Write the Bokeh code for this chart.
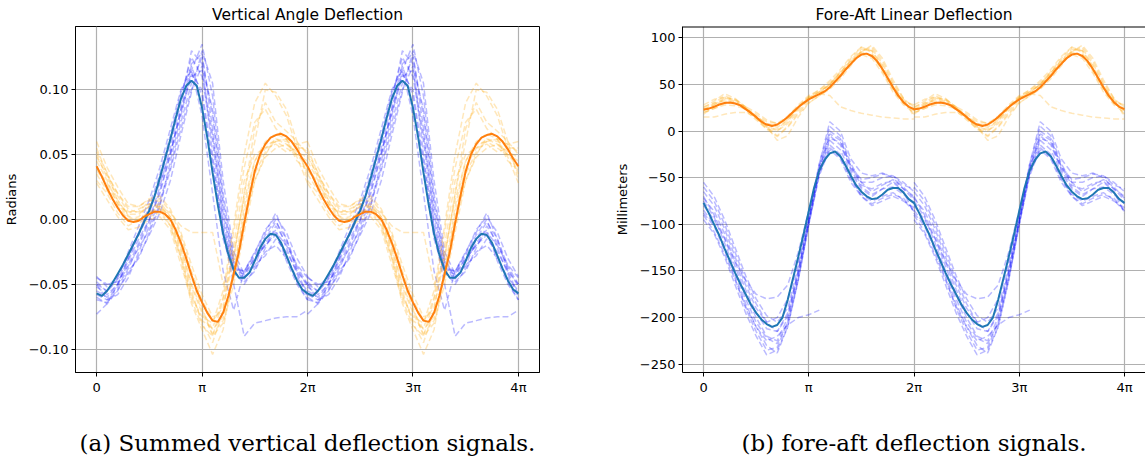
import numpy as np
from bokeh.plotting import figure
from bokeh.layouts import row
from bokeh.models import FixedTicker, Range1d, Span
from bokeh.embed import file_html
from bokeh.resources import INLINE

nan = float("nan")

# ---------------- shared ----------------
xtick_labels = ["0", "π", "2π", "3π", "4π"]
mean_step = 0.05     # phase step of the mean curves, in units of pi (one period 0..2pi)
trial_step = 0.10    # phase step of the individual trials, in units of pi

# ---------------- panel (a) ----------------
a_title = "Vertical Angle Deflection"
a_ylabel = "Radians"
a_caption = "(a) Summed vertical deflection signals."
a_yticks = [-0.10, -0.05, 0.00, 0.05, 0.10]
a_ytick_labels = ["−0.10", "−0.05", "0.00", "0.05", "0.10"]

a_blue_mean = [-0.057, -0.059, -0.055, -0.049, -0.042, -0.035, -0.027, -0.019, -0.011, -0.002,
               0.007, 0.018, 0.032, 0.047, 0.062, 0.078, 0.093, 0.103, 0.107, 0.103,
               0.086, 0.063, 0.036, 0.011, -0.011, -0.027, -0.039, -0.045, -0.045, -0.041,
               -0.032, -0.022, -0.015, -0.011, -0.012, -0.018, -0.028, -0.038, -0.047, -0.054,
               -0.057]
a_orange_mean = [0.041, 0.033, 0.024, 0.016, 0.009, 0.003, -0.001, -0.002, -0.001, 0.002,
                 0.004, 0.006, 0.006, 0.004, 0.000, -0.008, -0.018, -0.030, -0.043, -0.055,
                 -0.064, -0.072, -0.078, -0.079, -0.072, -0.059, -0.042, -0.025, -0.003, 0.018,
                 0.037, 0.050, 0.058, 0.063, 0.065, 0.066, 0.064, 0.060, 0.054, 0.047,
                 0.041]

a_blue_trials = [
    [-0.045, -0.050, -0.048, -0.035, -0.018, 0.000, 0.020, 0.050, 0.085, 0.120, 0.128, 0.070, 0.000, -0.040, -0.042, -0.030, -0.020, -0.010, -0.020, -0.035, -0.045],
    [-0.050, -0.062, -0.058, -0.045, -0.025, -0.005, 0.015, 0.040, 0.075, 0.105, 0.125, 0.080, 0.010, -0.035, -0.048, -0.040, -0.022, -0.005, -0.018, -0.038, -0.052],
    [-0.060, -0.065, -0.055, -0.040, -0.030, -0.010, 0.010, 0.045, 0.080, 0.115, 0.135, 0.095, 0.020, -0.030, -0.045, -0.035, -0.028, -0.015, -0.025, -0.040, -0.058],
    [-0.055, -0.060, -0.050, -0.030, -0.012, 0.005, 0.030, 0.060, 0.095, 0.125, 0.110, 0.060, -0.005, -0.040, -0.050, -0.038, -0.025, -0.020, -0.030, -0.045, -0.055],
    [-0.073, -0.065, -0.050, -0.032, -0.015, 0.000, 0.025, 0.055, 0.090, 0.130, 0.120, 0.050, -0.010, -0.050, -0.090, -0.080, -0.078, -0.076, -0.075, -0.075, -0.070],
    [-0.050, -0.055, -0.045, -0.025, -0.005, 0.015, 0.040, 0.070, 0.100, 0.115, 0.080, 0.020, -0.040, -0.070, -0.040, -0.025, -0.010, 0.005, -0.015, -0.040, -0.050],
    [-0.058, -0.062, -0.052, -0.038, -0.020, -0.002, 0.022, 0.050, 0.085, 0.112, 0.100, 0.045, -0.008, -0.038, -0.040, -0.028, -0.012, 0.000, -0.022, -0.042, -0.060],
    [-0.048, -0.056, -0.046, -0.030, -0.010, 0.010, 0.035, 0.065, 0.098, 0.118, 0.095, 0.040, -0.015, -0.042, -0.044, -0.032, -0.018, -0.008, -0.032, -0.050, -0.062],
    [-0.052, -0.058, -0.050, -0.036, -0.022, -0.008, 0.012, 0.038, 0.070, 0.100, 0.118, 0.085, 0.015, -0.032, -0.046, -0.036, -0.015, -0.002, -0.015, -0.036, -0.050],
    [-0.062, -0.064, -0.054, -0.042, -0.028, -0.012, 0.005, 0.030, 0.065, 0.098, 0.130, 0.105, 0.030, -0.025, -0.042, -0.030, -0.020, -0.012, -0.028, -0.048, -0.062],
    [-0.044, -0.052, -0.044, -0.028, -0.010, 0.008, 0.028, 0.052, 0.082, 0.110, 0.115, 0.065, 0.005, -0.036, -0.040, -0.026, -0.008, 0.002, -0.010, -0.030, -0.044],
]
a_orange_trials = [
    [0.045, 0.030, 0.012, 0.005, 0.008, 0.012, 0.010, 0.002, -0.020, -0.050, -0.070, -0.085, -0.075, -0.040, 0.010, 0.045, 0.058, 0.060, 0.055, 0.050, 0.045],
    [0.055, 0.035, 0.020, 0.008, 0.005, 0.010, 0.012, 0.000, -0.025, -0.055, -0.080, -0.095, -0.070, -0.020, 0.030, 0.050, 0.055, 0.058, 0.052, 0.055, 0.055],
    [0.035, 0.022, 0.010, 0.000, 0.002, 0.012, 0.008, -0.005, -0.030, -0.060, -0.075, -0.080, -0.055, -0.005, 0.050, 0.090, 0.105, 0.095, 0.080, 0.055, 0.035],
    [0.060, 0.040, 0.025, 0.012, 0.010, 0.015, 0.014, 0.002, -0.015, -0.045, -0.068, -0.090, -0.080, -0.050, -0.010, 0.030, 0.050, 0.062, 0.060, 0.058, 0.060],
    [0.030, 0.020, 0.005, -0.005, 0.000, 0.005, 0.010, 0.005, -0.005, -0.010, -0.010, -0.010, -0.050, -0.030, 0.020, 0.060, 0.100, 0.098, 0.085, 0.060, 0.030],
    [0.040, 0.028, 0.015, 0.003, -0.003, 0.002, 0.005, -0.005, -0.030, -0.065, -0.085, -0.104, -0.085, -0.040, 0.000, 0.030, 0.048, 0.055, 0.058, 0.050, 0.040],
    [0.050, 0.032, 0.018, 0.006, 0.006, 0.014, 0.016, 0.006, -0.012, -0.040, -0.062, -0.078, -0.068, -0.030, 0.020, 0.070, 0.090, 0.075, 0.068, 0.060, 0.050],
    [0.028, 0.015, 0.002, -0.008, -0.006, 0.000, 0.002, -0.008, -0.035, -0.062, -0.082, -0.090, -0.062, -0.025, 0.015, 0.045, 0.060, 0.066, 0.062, 0.048, 0.028],
    [0.048, 0.034, 0.020, 0.010, 0.010, 0.016, 0.018, 0.008, -0.010, -0.035, -0.058, -0.075, -0.072, -0.045, 0.005, 0.040, 0.055, 0.062, 0.058, 0.052, 0.048],
    [0.038, 0.026, 0.012, 0.002, 0.000, 0.006, 0.008, 0.000, -0.022, -0.052, -0.072, -0.088, -0.078, -0.045, -0.005, 0.035, 0.052, 0.060, 0.062, 0.045, 0.038],
    [0.052, 0.036, 0.014, 0.004, 0.004, 0.010, 0.010, -0.002, -0.028, -0.058, -0.078, -0.084, -0.060, -0.010, 0.040, 0.075, 0.085, 0.070, 0.062, 0.058, 0.052],
]

# ---------------- panel (b) ----------------
b_title = "Fore-Aft Linear Deflection"
b_ylabel = "Millimeters"
b_caption = "(b) fore-aft deflection signals."
b_yticks = [-250, -200, -150, -100, -50, 0, 50, 100]
b_ytick_labels = ["−250", "−200", "−150", "−100", "−50", "0", "50", "100"]

b_blue_mean = [-77, -88, -100, -112, -126, -139, -152, -164, -175, -186,
               -195, -202, -207, -210, -208, -200, -181, -158, -135, -111,
               -86, -61, -42, -31, -24, -22, -27, -37, -48, -58,
               -65, -70, -73, -72, -68, -63, -61, -61, -66, -73,
               -77]
b_orange_mean = [23, 24, 26, 28.5, 30, 30.5, 29.5, 27.5, 23.5, 19.5,
                 15, 10, 7, 5.5, 7, 10.5, 15, 20.5, 25.5, 30,
                 34, 37, 39.5, 42.5, 47, 53, 59, 66, 72, 78,
                 82, 83, 80.5, 75, 66.5, 57, 47, 38, 31, 26,
                 23.5]

b_blue_trials = [
    [-60, -75, -100, -130, -160, -185, -205, -215, -195, -150, -95, -40, -5, -15, -40, -55, -55, -50, -48, -55, -65],
    [-70, -90, -115, -145, -175, -200, -220, -225, -200, -150, -95, -35, 5, -5, -35, -55, -65, -58, -52, -60, -72],
    [-85, -100, -125, -155, -185, -210, -230, -238, -210, -160, -100, -45, -15, -25, -50, -70, -78, -72, -68, -72, -85],
    [-80, -95, -115, -140, -160, -175, -180, -178, -165, -130, -85, -45, -20, -30, -55, -70, -80, -75, -70, -75, -82],
    [-95, -110, -135, -165, -195, -220, -240, -235, -210, -160, -100, -45, -10, -20, -45, -62, -70, -62, -55, -65, -88],
    [-65, -80, -105, -135, -165, -190, -205, -200, -180, -140, -90, -35, 10, 0, -30, -45, -48, -45, -50, -62, -70],
    [-90, -108, -132, -160, -188, -210, -225, -220, -208, -200, -197, -192, nan, nan, nan, nan, nan, nan, nan, nan, nan],
    [-75, -92, -120, -150, -180, -205, -222, -228, -205, -155, -98, -42, -8, -12, -42, -60, -68, -62, -60, -68, -78],
    [-55, -70, -95, -125, -155, -180, -198, -205, -190, -145, -92, -38, 0, -8, -38, -52, -50, -46, -48, -58, -62],
    [-88, -102, -128, -158, -190, -215, -235, -232, -205, -158, -100, -48, -18, -28, -52, -68, -75, -70, -66, -74, -86],
    [-72, -86, -110, -140, -170, -195, -212, -215, -198, -152, -96, -40, -3, -10, -38, -58, -62, -56, -54, -62, -74],
]
b_orange_trials = [
    [22, 30, 38, 33, 22, 12, 2, 0, 10, 25, 36, 42, 50, 62, 76, 88, 86, 70, 48, 30, 22],
    [25, 32, 40, 35, 25, 14, 4, -5, 5, 20, 32, 40, 48, 60, 74, 86, 90, 75, 52, 35, 25],
    [20, 24, 28, 27, 24, 18, 10, 8, 16, 28, 38, 44, 52, 63, 74, 82, 78, 62, 42, 28, 20],
    [15, 15, 18, 20, 20, 15, 5, -10, -5, 15, 30, 38, 45, 56, 70, 85, 92, 78, 55, 35, 15],
    [20, 24, 30, 30, 24, 16, 8, 6, 14, 26, 35, 40, 38, 26, 22, 19, 17, 15, 14, 13, 13],
    [28, 34, 36, 32, 24, 16, 8, 4, 12, 24, 35, 42, 50, 60, 72, 84, 82, 66, 46, 32, 28],
    [24, 28, 34, 31, 24, 14, 4, 2, 12, 26, 37, 44, 54, 66, 80, 90, 84, 64, 44, 30, 24],
    [18, 26, 35, 34, 26, 14, 2, -6, 4, 18, 30, 38, 46, 58, 72, 86, 88, 72, 50, 32, 18],
    [26, 30, 32, 30, 26, 20, 12, 8, 14, 26, 36, 42, 50, 62, 76, 84, 80, 66, 48, 34, 26],
    [22, 28, 36, 34, 26, 14, 6, 0, 8, 22, 34, 40, 50, 64, 78, 90, 86, 68, 46, 30, 22],
]

TRIAL_BLUE = "blue"
TRIAL_ORANGE = "orange"
MEAN_BLUE = "#1f77b4"
MEAN_ORANGE = "#ff7f0e"


def two_periods(values, step):
    y = np.array(values, dtype=float)
    t = np.arange(len(y)) * step * np.pi
    return [(t, y), (t + 2 * np.pi, y)]


def make_panel(title, ylabel, caption, yticks, ylabels, yrange, xend, blue_mean, orange_mean,
               blue_trials, orange_trials, width, border_left, border_right, full_box):
    p = figure(width=width, height=467, output_backend="svg", toolbar_location=None,
               x_range=Range1d(-0.2 * np.pi, xend * np.pi), y_range=Range1d(*yrange),
               min_border_left=border_left, min_border_right=border_right,
               min_border_top=26, min_border_bottom=95, title=title)
    p.title.text_font = "DejaVu Sans"
    p.title.text_font_size = "15.5px"
    p.title.text_font_style = "normal"
    p.title.align = "center"
    p.title.standoff = 6
    p.title.text_color = "black"

    p.background_fill_color = "white"
    p.border_fill_color = "white"
    if full_box:
        p.outline_line_color = "black"
        p.outline_line_alpha = 1.0
        p.outline_line_width = 1
    else:
        p.outline_line_color = None
        p.add_layout(Span(location=yrange[1], dimension="width", line_color="black", line_width=2))

    p.xaxis.ticker = FixedTicker(ticks=[k * np.pi for k in range(len(xtick_labels))])
    p.xaxis.major_label_overrides = {k * np.pi: lab for k, lab in enumerate(xtick_labels)}
    p.yaxis.ticker = FixedTicker(ticks=yticks)
    p.yaxis.major_label_overrides = {v: lab for v, lab in zip(yticks, ylabels)}

    for ax in (p.xaxis, p.yaxis):
        ax.major_label_text_font = "DejaVu Sans"
        ax.major_label_text_font_size = "13px"
        ax.major_label_text_color = "black"
        ax.major_tick_out = 4
        ax.major_tick_in = 0
        ax.minor_tick_out = 0
        ax.minor_tick_in = 0
        ax.major_tick_line_color = "black"
        ax.axis_line_color = "black"
        ax.major_label_standoff = 3

    p.yaxis.axis_label = ylabel
    p.yaxis.axis_label_text_font = "DejaVu Sans"
    p.yaxis.axis_label_text_font_size = "13px"
    p.yaxis.axis_label_text_font_style = "normal"
    p.yaxis.axis_label_text_color = "black"
    p.yaxis.axis_label_standoff = 7

    p.xaxis.axis_label = caption
    p.xaxis.axis_label_text_font = "DejaVu Serif"
    p.xaxis.axis_label_text_font_size = "23px"
    p.xaxis.axis_label_text_font_style = "normal"
    p.xaxis.axis_label_text_color = "black"
    p.xaxis.axis_label_standoff = 32

    p.grid.grid_line_color = "#b0b0b0"
    p.grid.grid_line_width = 1.2

    for trials, col in ((blue_trials, TRIAL_BLUE), (orange_trials, TRIAL_ORANGE)):
        for tr in trials:
            for t, y in two_periods(tr, trial_step):
                p.line(t, y, line_color=col, line_alpha=0.27, line_width=1.5, line_dash="6 3")

    for m, col in ((blue_mean, MEAN_BLUE), (orange_mean, MEAN_ORANGE)):
        (t1, y1), (t2, y2) = two_periods(m, mean_step)
        t = np.concatenate([t1, t2[1:]])
        y = np.concatenate([y1, y2[1:]])
        p.line(t, y, line_color=col, line_width=2)
    return p


pa = make_panel(a_title, a_ylabel, a_caption, a_yticks, a_ytick_labels, (-0.118, 0.1487), 4.2,
                a_blue_mean, a_orange_mean, a_blue_trials, a_orange_trials,
                width=600, border_left=75, border_right=61, full_box=True)
pb = make_panel(b_title, b_ylabel, b_caption, b_yticks, b_ytick_labels, (-258.9, 112.1), 4.2,
                b_blue_mean, b_orange_mean, b_blue_trials, b_orange_trials,
                width=545, border_left=82, border_right=0, full_box=False)

layout = row(pa, pb)
open("out.html", "w").write(file_html(layout, INLINE))
